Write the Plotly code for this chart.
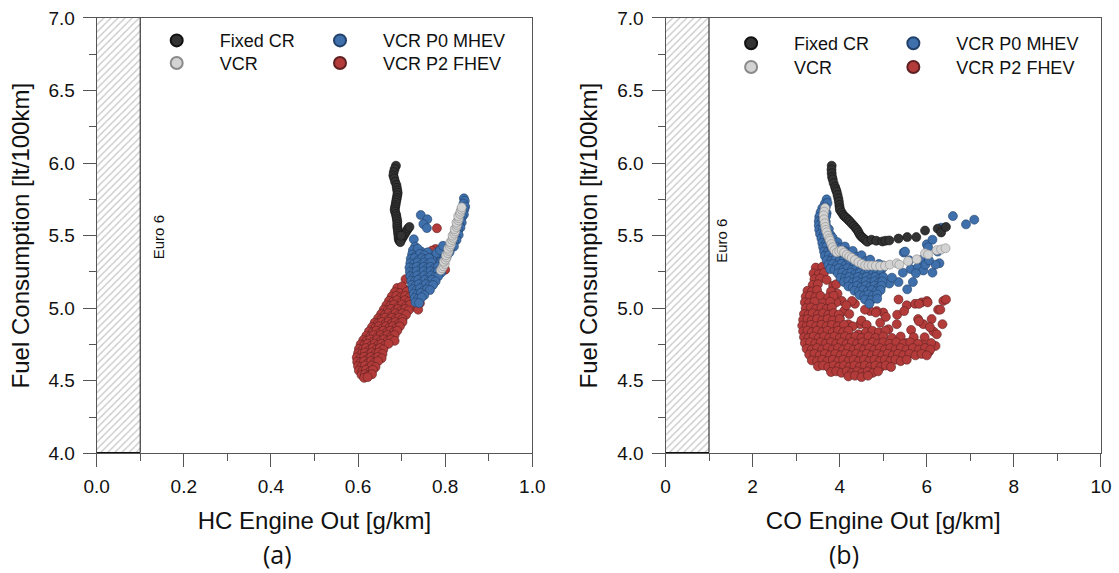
import plotly.graph_objects as go

# ---------------- DATA ----------------
euro6_hc_limit = 0.1   # g/km
euro6_co_limit = 1.0   # g/km
fc_range = [4.0, 7.0]
hc_range = [0.0, 1.0]
co_range = [0.0, 10.0]

series_names = ["Fixed CR", "VCR", "VCR P0 MHEV", "VCR P2 FHEV"]

# (a) HC engine out [g/km] vs fuel consumption [lt/100km]
a_fixed_cr = [
    (0.687, 5.982), (0.684, 5.960), (0.682, 5.938), (0.681, 5.915), (0.683, 5.895), (0.685, 5.872),
    (0.688, 5.850), (0.689, 5.830), (0.690, 5.812), (0.691, 5.795), (0.690, 5.778), (0.689, 5.760),
    (0.688, 5.745), (0.687, 5.728), (0.686, 5.710), (0.685, 5.695), (0.684, 5.680), (0.685, 5.665),
    (0.687, 5.648), (0.688, 5.632), (0.689, 5.615), (0.690, 5.598), (0.690, 5.580), (0.690, 5.562),
    (0.691, 5.545), (0.692, 5.530), (0.692, 5.515), (0.693, 5.500), (0.693, 5.485), (0.694, 5.470),
    (0.696, 5.462), (0.700, 5.475), (0.703, 5.490), (0.706, 5.505), (0.709, 5.520), (0.712, 5.535),
    (0.715, 5.550), (0.718, 5.560), (0.697, 5.455), (0.699, 5.500),
]
a_vcr = [
    (0.790, 5.262), (0.793, 5.275), (0.796, 5.290), (0.799, 5.305), (0.797, 5.320), (0.801, 5.335),
    (0.803, 5.350), (0.802, 5.365), (0.806, 5.380), (0.808, 5.395), (0.807, 5.410), (0.811, 5.425),
    (0.813, 5.440), (0.812, 5.455), (0.816, 5.470), (0.818, 5.485), (0.817, 5.500), (0.821, 5.515),
    (0.823, 5.530), (0.822, 5.545), (0.826, 5.560), (0.827, 5.575), (0.826, 5.590), (0.830, 5.605),
    (0.831, 5.620), (0.830, 5.635), (0.834, 5.650), (0.835, 5.665), (0.837, 5.680), (0.838, 5.695),
]
a_p0_mhev = [
    # outliers
    (0.744, 5.642), (0.759, 5.613), (0.750, 5.580), (0.758, 5.552), (0.728, 5.475), (0.731, 5.424),
    (0.745, 5.390), (0.760, 5.385),
    # upper arm
    (0.843, 5.757), (0.845, 5.740), (0.842, 5.720), (0.846, 5.700), (0.844, 5.680), (0.841, 5.665),
    (0.843, 5.645), (0.839, 5.630), (0.836, 5.610), (0.838, 5.590), (0.833, 5.575), (0.835, 5.555),
    (0.830, 5.540), (0.828, 5.520), (0.831, 5.505), (0.824, 5.490), (0.826, 5.470), (0.820, 5.455),
    (0.816, 5.440), (0.820, 5.425), (0.812, 5.410), (0.806, 5.400), (0.810, 5.385), (0.800, 5.370),
    (0.795, 5.360), (0.803, 5.350), (0.790, 5.345), (0.785, 5.335), (0.795, 5.330), (0.780, 5.325),
    (0.788, 5.315), (0.776, 5.310), (0.772, 5.350), (0.780, 5.380), (0.788, 5.400), (0.795, 5.430),
    (0.770, 5.330), (0.765, 5.320),
    # main cloud
    (0.726, 5.40), (0.737, 5.41),
    (0.724, 5.37), (0.733, 5.36), (0.742, 5.375), (0.752, 5.365),
    (0.721, 5.34), (0.730, 5.345), (0.738, 5.33), (0.747, 5.345), (0.754, 5.335), (0.763, 5.345),
    (0.720, 5.31), (0.728, 5.305), (0.737, 5.315), (0.744, 5.30), (0.753, 5.315), (0.760, 5.305), (0.768, 5.315),
    (0.718, 5.28), (0.727, 5.275), (0.735, 5.285), (0.743, 5.27), (0.751, 5.285), (0.759, 5.275), (0.767, 5.285),
    (0.775, 5.275), (0.783, 5.285),
    (0.719, 5.25), (0.727, 5.245), (0.735, 5.255), (0.743, 5.24), (0.751, 5.255), (0.759, 5.245), (0.767, 5.255),
    (0.775, 5.245), (0.783, 5.255), (0.791, 5.245),
    (0.720, 5.22), (0.728, 5.215), (0.736, 5.225), (0.744, 5.21), (0.752, 5.225), (0.760, 5.215), (0.768, 5.225),
    (0.776, 5.215), (0.784, 5.22),
    (0.722, 5.19), (0.730, 5.185), (0.738, 5.195), (0.746, 5.18), (0.754, 5.195), (0.762, 5.185), (0.770, 5.195),
    (0.778, 5.185),
    (0.724, 5.16), (0.732, 5.155), (0.740, 5.165), (0.748, 5.15), (0.756, 5.165), (0.764, 5.155), (0.772, 5.16),
    (0.726, 5.13), (0.734, 5.125), (0.742, 5.135), (0.750, 5.12), (0.758, 5.13), (0.765, 5.125),
    (0.728, 5.10), (0.736, 5.095), (0.744, 5.105), (0.752, 5.09),
    (0.730, 5.07), (0.738, 5.065), (0.746, 5.075),
    (0.732, 5.04), (0.740, 5.035),
]
a_p2_fhev = [
    # outliers
    (0.781, 5.551), (0.778, 5.408), (0.770, 5.397), (0.800, 5.265), (0.709, 5.200), (0.705, 5.133),
    (0.693, 5.110), (0.735, 5.068), (0.742, 5.034), (0.727, 5.010), (0.738, 4.990),
    # main band
    (0.690, 5.14), (0.701, 5.15),
    (0.684, 5.11), (0.696, 5.105), (0.712, 5.115),
    (0.677, 5.08), (0.688, 5.085), (0.698, 5.075), (0.708, 5.085), (0.718, 5.075),
    (0.671, 5.05), (0.681, 5.045), (0.690, 5.055), (0.699, 5.04), (0.708, 5.055), (0.717, 5.045),
    (0.665, 5.02), (0.674, 5.015), (0.683, 5.025), (0.692, 5.01), (0.701, 5.025), (0.710, 5.015), (0.719, 5.025),
    (0.659, 4.99), (0.668, 4.985), (0.676, 4.995), (0.684, 4.98), (0.692, 4.995), (0.700, 4.985), (0.708, 4.995),
    (0.716, 4.985),
    (0.653, 4.96), (0.662, 4.955), (0.670, 4.965), (0.678, 4.95), (0.686, 4.965), (0.694, 4.955), (0.702, 4.965),
    (0.710, 4.955),
    (0.646, 4.93), (0.654, 4.925), (0.662, 4.935), (0.670, 4.92), (0.678, 4.935), (0.686, 4.925), (0.694, 4.935),
    (0.702, 4.925),
    (0.638, 4.90), (0.646, 4.895), (0.654, 4.905), (0.662, 4.89), (0.670, 4.905), (0.678, 4.895), (0.686, 4.905),
    (0.694, 4.895), (0.702, 4.905),
    (0.632, 4.87), (0.640, 4.865), (0.648, 4.875), (0.656, 4.86), (0.664, 4.875), (0.672, 4.865), (0.680, 4.875),
    (0.688, 4.865), (0.696, 4.875),
    (0.625, 4.84), (0.634, 4.835), (0.642, 4.845), (0.650, 4.83), (0.658, 4.845), (0.666, 4.835), (0.674, 4.845),
    (0.682, 4.835), (0.690, 4.845),
    (0.619, 4.81), (0.628, 4.805), (0.636, 4.815), (0.644, 4.80), (0.652, 4.815), (0.660, 4.805), (0.668, 4.815),
    (0.676, 4.805), (0.684, 4.815),
    (0.612, 4.78), (0.620, 4.775), (0.628, 4.785), (0.636, 4.77), (0.644, 4.785), (0.652, 4.775), (0.660, 4.785),
    (0.668, 4.775), (0.676, 4.785), (0.684, 4.775),
    (0.606, 4.75), (0.614, 4.745), (0.622, 4.755), (0.630, 4.74), (0.638, 4.755), (0.646, 4.745), (0.654, 4.755),
    (0.662, 4.745), (0.670, 4.755),
    (0.602, 4.72), (0.610, 4.715), (0.618, 4.725), (0.626, 4.71), (0.634, 4.725), (0.642, 4.715), (0.650, 4.725),
    (0.658, 4.715),
    (0.600, 4.69), (0.608, 4.685), (0.616, 4.695), (0.624, 4.68), (0.632, 4.695), (0.640, 4.685), (0.648, 4.695),
    (0.656, 4.685),
    (0.597, 4.66), (0.606, 4.655), (0.614, 4.665), (0.622, 4.65), (0.630, 4.665), (0.638, 4.655), (0.646, 4.665),
    (0.654, 4.655),
    (0.598, 4.63), (0.606, 4.625), (0.614, 4.635), (0.622, 4.62), (0.630, 4.635), (0.638, 4.625), (0.646, 4.635),
    (0.600, 4.60), (0.608, 4.595), (0.616, 4.605), (0.624, 4.59), (0.632, 4.605), (0.640, 4.595),
    (0.602, 4.57), (0.610, 4.565), (0.618, 4.575), (0.626, 4.56), (0.634, 4.575),
    (0.608, 4.54), (0.616, 4.545), (0.624, 4.535), (0.632, 4.545),
    (0.614, 4.52), (0.622, 4.525),
]

# (b) CO engine out [g/km] vs fuel consumption [lt/100km]
b_fixed_cr = [
    (3.816, 5.982), (3.812, 5.955), (3.816, 5.930), (3.825, 5.905), (3.839, 5.888), (3.860, 5.862),
    (3.892, 5.837), (3.910, 5.820), (3.931, 5.803), (3.950, 5.780), (3.968, 5.757), (3.980, 5.735),
    (3.991, 5.711), (4.000, 5.692), (4.007, 5.677), (4.045, 5.660), (4.083, 5.642), (4.120, 5.630),
    (4.161, 5.620), (4.200, 5.608), (4.236, 5.597), (4.280, 5.582), (4.328, 5.567), (4.370, 5.552),
    (4.404, 5.539), (4.435, 5.522), (4.466, 5.505), (4.500, 5.492), (4.542, 5.482), (4.590, 5.470),
    (4.634, 5.458), (4.730, 5.472), (4.840, 5.465), (4.980, 5.460), (5.050, 5.465), (5.140, 5.467),
    (5.350, 5.480), (5.550, 5.490), (5.760, 5.490), (5.960, 5.535), (6.250, 5.548), (6.330, 5.522),
    (6.440, 5.560),
]
b_vcr = [
    (3.664, 5.690), (3.645, 5.665), (3.630, 5.640), (3.640, 5.612), (3.655, 5.585), (3.670, 5.560),
    (3.685, 5.540), (3.702, 5.523), (3.730, 5.500), (3.760, 5.480), (3.779, 5.466), (3.810, 5.442),
    (3.840, 5.420), (3.880, 5.400), (3.933, 5.385), (3.990, 5.392), (4.048, 5.397), (4.100, 5.383),
    (4.164, 5.369), (4.220, 5.357), (4.279, 5.347), (4.350, 5.332), (4.431, 5.317), (4.510, 5.305),
    (4.585, 5.294), (4.660, 5.294), (4.740, 5.294), (4.830, 5.292), (4.930, 5.290), (5.040, 5.292),
    (5.150, 5.300), (5.310, 5.310), (5.370, 5.300), (5.570, 5.324), (5.770, 5.337), (5.960, 5.378),
    (6.030, 5.370), (6.230, 5.400), (6.330, 5.405), (6.430, 5.413),
]
b_p0_mhev = [
    # scattered points
    (5.47, 5.384), (6.00, 5.440), (6.13, 5.472), (6.25, 5.390), (6.29, 5.310), (6.13, 5.245),
    (5.63, 5.270), (5.68, 5.180), (5.55, 5.130), (5.35, 5.180), (5.14, 5.170), (5.45, 5.245),
    (5.80, 5.283), (5.88, 5.333), (5.92, 5.260), (6.90, 5.578), (7.09, 5.610), (6.60, 5.635),
    (6.33, 5.555), (6.20, 5.300), (5.97, 5.300), (5.75, 5.240), (6.05, 5.330), (5.20, 5.210),
    (5.60, 5.330), (6.03, 5.420), (5.50, 5.390),
    # dense crescent
    (3.70, 5.75),
    (3.66, 5.72), (3.72, 5.725),
    (3.60, 5.69), (3.68, 5.695),
    (3.56, 5.66), (3.64, 5.665), (3.70, 5.655),
    (3.53, 5.63), (3.61, 5.625), (3.69, 5.635),
    (3.52, 5.60), (3.60, 5.605), (3.68, 5.595),
    (3.52, 5.57), (3.60, 5.565), (3.68, 5.575),
    (3.53, 5.54), (3.61, 5.545), (3.69, 5.535), (3.75, 5.545),
    (3.55, 5.51), (3.63, 5.505), (3.71, 5.515), (3.79, 5.505),
    (3.58, 5.48), (3.66, 5.485), (3.74, 5.475), (3.84, 5.485),
    (3.60, 5.45), (3.68, 5.445), (3.76, 5.455), (3.86, 5.445), (3.95, 5.455),
    (3.62, 5.42), (3.70, 5.425), (3.80, 5.415), (3.92, 5.425), (4.02, 5.415), (4.12, 5.425),
    (3.64, 5.39), (3.72, 5.385), (3.82, 5.395), (3.92, 5.385), (4.10, 5.395), (4.20, 5.385), (4.30, 5.395),
    (3.66, 5.36), (3.75, 5.365), (3.85, 5.355), (3.95, 5.365), (4.05, 5.355), (4.15, 5.365), (4.40, 5.355),
    (4.50, 5.365),
    (3.70, 5.33), (3.80, 5.325), (3.90, 5.335), (4.00, 5.325), (4.10, 5.335), (4.20, 5.325), (4.30, 5.335),
    (4.60, 5.325), (4.70, 5.335),
    (3.74, 5.30), (3.84, 5.305), (3.94, 5.295), (4.04, 5.305), (4.14, 5.295), (4.24, 5.305), (4.34, 5.295),
    (4.44, 5.305), (4.54, 5.295), (4.90, 5.305), (5.00, 5.295),
    (3.78, 5.27), (3.88, 5.265), (3.98, 5.275), (4.08, 5.265), (4.18, 5.275), (4.28, 5.265), (4.38, 5.275),
    (4.48, 5.265), (4.58, 5.275), (4.68, 5.265), (4.78, 5.275), (4.88, 5.265), (4.98, 5.275),
    (3.96, 5.24), (4.06, 5.245), (4.16, 5.235), (4.26, 5.245), (4.36, 5.235), (4.46, 5.245), (4.56, 5.235),
    (4.66, 5.245), (4.76, 5.235), (4.86, 5.245), (4.94, 5.235),
    (4.02, 5.21), (4.12, 5.205), (4.22, 5.215), (4.32, 5.205), (4.42, 5.215), (4.52, 5.205), (4.62, 5.215),
    (4.72, 5.205), (4.82, 5.215), (4.92, 5.205), (5.00, 5.215),
    (4.10, 5.18), (4.20, 5.185), (4.30, 5.175), (4.40, 5.185), (4.50, 5.175), (4.60, 5.185), (4.70, 5.175),
    (4.80, 5.185), (4.90, 5.175), (4.98, 5.185),
    (4.20, 5.15), (4.30, 5.145), (4.40, 5.155), (4.50, 5.145), (4.60, 5.155), (4.70, 5.145), (4.80, 5.155),
    (4.90, 5.145), (4.96, 5.155),
    (4.34, 5.12), (4.44, 5.115), (4.54, 5.125), (4.64, 5.115), (4.74, 5.125), (4.84, 5.115), (4.94, 5.125),
    (4.46, 5.09), (4.56, 5.085), (4.66, 5.095), (4.76, 5.085), (4.86, 5.095),
    (4.58, 5.06), (4.72, 5.055), (4.86, 5.065),
    (4.68, 5.03),
]
b_p2_fhev = [
    # scattered upper points
    (5.35, 5.06), (5.54, 5.02), (5.73, 5.03), (5.88, 5.04), (6.00, 5.05), (6.38, 5.05), (6.44, 5.06),
    (6.26, 4.99), (6.31, 4.99), (5.80, 4.925), (5.92, 4.89), (6.11, 4.925), (6.15, 4.84), (6.07, 4.87),
    (6.23, 4.82), (6.36, 4.89), (5.64, 4.85), (5.52, 4.76), (5.31, 4.89), (5.12, 4.855), (4.93, 4.90),
    (5.00, 4.97), (4.85, 4.98), (4.70, 4.98), (4.58, 4.99), (4.83, 4.97), (5.06, 4.94), (5.32, 4.955),
    (5.48, 4.98), (5.82, 5.03), (6.02, 5.04), (5.82, 4.91), (4.47, 4.89), (4.43, 4.82), (4.20, 4.89),
    (3.85, 4.953), (3.78, 5.01), (4.35, 5.03), (4.28, 5.05), (6.20, 4.74), (6.10, 4.76), (5.95, 4.80),
    (6.05, 4.70), (5.70, 4.80), (5.90, 4.75), (3.95, 5.10), (4.05, 5.05), (4.10, 4.98), (4.22, 4.96),
    (4.15, 5.02), (3.92, 5.04), (4.00, 4.93),
    # main cloud
    (3.45, 5.28), (3.60, 5.285),
    (3.40, 5.24), (3.52, 5.235), (3.64, 5.245),
    (3.42, 5.20), (3.55, 5.205), (3.70, 5.195),
    (3.38, 5.16), (3.50, 5.165), (3.85, 5.155), (3.92, 5.165),
    (3.26, 5.12), (3.36, 5.115), (3.48, 5.125), (3.80, 5.115),
    (3.22, 5.08), (3.32, 5.085), (3.44, 5.075), (3.56, 5.085), (3.74, 5.075), (3.86, 5.085),
    (3.20, 5.04), (3.30, 5.035), (3.42, 5.045), (3.62, 5.035), (3.78, 5.045),
    (3.22, 5.00), (3.34, 5.005), (3.46, 4.995), (3.58, 5.005), (3.70, 4.995), (3.82, 5.005),
    (3.18, 4.96), (3.28, 4.955), (3.38, 4.965), (3.50, 4.955), (3.62, 4.965), (3.74, 4.955), (3.86, 4.965),
    (3.98, 4.955),
    (3.16, 4.92), (3.26, 4.925), (3.36, 4.915), (3.48, 4.925), (3.60, 4.915), (3.72, 4.925), (3.84, 4.915),
    (4.00, 4.925), (4.50, 4.915),
    (3.14, 4.88), (3.24, 4.875), (3.34, 4.885), (3.46, 4.875), (3.58, 4.885), (3.70, 4.875), (3.82, 4.885),
    (3.96, 4.875), (4.10, 4.885), (4.30, 4.875), (4.62, 4.885),
    (3.16, 4.84), (3.26, 4.845), (3.36, 4.835), (3.48, 4.845), (3.60, 4.835), (3.72, 4.845), (3.84, 4.835),
    (3.96, 4.845), (4.08, 4.835), (4.20, 4.845), (4.60, 4.835), (4.75, 4.845), (4.90, 4.835), (5.05, 4.845),
    (3.18, 4.80), (3.28, 4.795), (3.40, 4.805), (3.52, 4.795), (3.64, 4.805), (3.76, 4.795), (3.88, 4.805),
    (4.00, 4.795), (4.12, 4.805), (4.24, 4.795), (4.36, 4.805), (4.50, 4.795), (4.66, 4.805), (4.82, 4.795),
    (5.00, 4.805), (5.20, 4.795), (5.40, 4.805),
    (3.20, 4.76), (3.32, 4.765), (3.44, 4.755), (3.56, 4.765), (3.68, 4.755), (3.80, 4.765), (3.92, 4.755),
    (4.04, 4.765), (4.16, 4.755), (4.28, 4.765), (4.40, 4.755), (4.52, 4.765), (4.64, 4.755), (4.76, 4.765),
    (4.88, 4.755), (5.00, 4.765), (5.14, 4.755), (5.30, 4.765), (5.46, 4.755), (5.62, 4.765), (5.80, 4.755),
    (3.24, 4.72), (3.36, 4.715), (3.48, 4.725), (3.60, 4.715), (3.72, 4.725), (3.84, 4.715), (3.96, 4.725),
    (4.08, 4.715), (4.20, 4.725), (4.32, 4.715), (4.44, 4.725), (4.56, 4.715), (4.68, 4.725), (4.80, 4.715),
    (4.92, 4.725), (5.04, 4.715), (5.16, 4.725), (5.28, 4.715), (5.40, 4.725), (5.54, 4.715), (5.68, 4.725),
    (5.82, 4.715), (5.96, 4.725), (6.08, 4.715),
    (3.30, 4.68), (3.42, 4.685), (3.54, 4.675), (3.66, 4.685), (3.78, 4.675), (3.90, 4.685), (4.02, 4.675),
    (4.14, 4.685), (4.26, 4.675), (4.38, 4.685), (4.50, 4.675), (4.62, 4.685), (4.74, 4.675), (4.86, 4.685),
    (4.98, 4.675), (5.10, 4.685), (5.22, 4.675), (5.34, 4.685), (5.46, 4.675), (5.60, 4.685), (5.74, 4.675),
    (5.88, 4.685), (6.00, 4.675),
    (3.36, 4.64), (3.48, 4.635), (3.60, 4.645), (3.72, 4.635), (3.84, 4.645), (3.96, 4.635), (4.08, 4.645),
    (4.20, 4.635), (4.32, 4.645), (4.44, 4.635), (4.56, 4.645), (4.68, 4.635), (4.80, 4.645), (4.92, 4.635),
    (5.04, 4.645), (5.16, 4.635), (5.28, 4.645), (5.40, 4.635), (5.54, 4.645),
    (3.50, 4.60), (3.62, 4.605), (3.74, 4.595), (3.86, 4.605), (3.98, 4.595), (4.10, 4.605), (4.22, 4.595),
    (4.34, 4.605), (4.46, 4.595), (4.58, 4.605), (4.70, 4.595), (4.82, 4.605), (4.94, 4.595), (5.06, 4.605),
    (5.18, 4.595),
    (3.80, 4.56), (3.92, 4.565), (4.04, 4.555), (4.16, 4.565), (4.28, 4.555), (4.40, 4.565), (4.52, 4.555),
    (4.64, 4.565), (4.76, 4.555), (4.88, 4.565),
    (4.20, 4.53), (4.35, 4.535), (4.50, 4.525), (4.65, 4.535),
]

# ---------------- STYLE ----------------
FONT = "Liberation Sans, Arial, sans-serif"
fills = {"Fixed CR": "#333333", "VCR": "#d3d3d3", "VCR P0 MHEV": "#3f70ac", "VCR P2 FHEV": "#b33c3b"}
edges = {"Fixed CR": "#111111", "VCR": "#8a8a8a", "VCR P0 MHEV": "#22416a", "VCR P2 FHEV": "#5e2020"}

panels = [
    dict(xa="x", ya="y", limit=euro6_hc_limit, data={"Fixed CR": a_fixed_cr, "VCR": a_vcr,
         "VCR P0 MHEV": a_p0_mhev, "VCR P2 FHEV": a_p2_fhev}),
    dict(xa="x2", ya="y2", limit=euro6_co_limit, data={"Fixed CR": b_fixed_cr, "VCR": b_vcr,
         "VCR P0 MHEV": b_p0_mhev, "VCR P2 FHEV": b_p2_fhev}),
]

fig = go.Figure()
draw_order = ["VCR P2 FHEV", "VCR P0 MHEV", "VCR", "Fixed CR"]
legend_ids = {
    (0, "Fixed CR"): "legend", (0, "VCR"): "legend2", (0, "VCR P0 MHEV"): "legend3", (0, "VCR P2 FHEV"): "legend4",
    (1, "Fixed CR"): "legend5", (1, "VCR"): "legend6", (1, "VCR P0 MHEV"): "legend7", (1, "VCR P2 FHEV"): "legend8",
}

for i, p in enumerate(panels):
    # Euro 6 hatched band
    fig.add_trace(go.Bar(
        x=[p["limit"] / 2], y=[fc_range[1] - fc_range[0]], base=[fc_range[0]], width=[p["limit"]],
        xaxis=p["xa"], yaxis=p["ya"], showlegend=False, hoverinfo="skip",
        marker=dict(color="white", line=dict(color="#111111", width=1),
                    pattern=dict(shape="/", fgcolor="#8c8c8c", bgcolor="white", size=5, solidity=0.25)),
    ))
    for name in draw_order:
        pts = p["data"][name]
        fig.add_trace(go.Scatter(
            x=[q[0] for q in pts], y=[q[1] for q in pts], mode="markers", name=name,
            xaxis=p["xa"], yaxis=p["ya"], legend=legend_ids[(i, name)],
            marker=dict(size=9, color=fills[name], line=dict(color=edges[name], width=0.6)),
        ))

axis_common = dict(
    showline=True, linecolor="#555555", linewidth=1, mirror=True, showgrid=False, zeroline=False,
    ticks="outside", ticklen=13, tickwidth=1, tickcolor="#555555", automargin=False,
    tickfont=dict(family=FONT, size=19, color="#111111"),
)
title_font = dict(family=FONT, size=24, color="#111111")
y_dom = [0.2089, 0.9686]

fig.update_layout(
    width=1119, height=573, margin=dict(l=0, r=0, t=0, b=0, autoexpand=False),
    paper_bgcolor="white", plot_bgcolor="white", showlegend=True, bargap=0,
    xaxis=dict(axis_common, domain=[0.08642, 0.47569], range=hc_range, dtick=0.2, tick0=0, tickformat=".1f",
               minor=dict(dtick=0.1, ticks="outside", ticklen=7, tickcolor="#555555"), ticklabelstandoff=3,
               title=dict(text="HC Engine Out [g/km]", font=title_font, standoff=16)),
    yaxis=dict(axis_common, domain=y_dom, range=fc_range, dtick=0.5, tick0=4, tickformat=".1f",
               minor=dict(dtick=0.25, ticks="outside", ticklen=7, tickcolor="#555555"), ticklabelstandoff=4,
               title=dict(text="Fuel Consumption [lt/100km]", font=title_font, standoff=12)),
    xaxis2=dict(axis_common, domain=[0.59473, 0.98391], range=co_range, dtick=2, tick0=0, anchor="y2",
                minor=dict(dtick=1, ticks="outside", ticklen=7, tickcolor="#555555"), ticklabelstandoff=3,
                title=dict(text="CO Engine Out [g/km]", font=title_font, standoff=16)),
    yaxis2=dict(axis_common, domain=y_dom, range=fc_range, dtick=0.5, tick0=4, tickformat=".1f", anchor="x2",
                minor=dict(dtick=0.25, ticks="outside", ticklen=7, tickcolor="#555555"), ticklabelstandoff=4,
                title=dict(text="Fuel Consumption [lt/100km]", font=title_font, standoff=12)),
)

legend_pos = {
    "legend": (0.11948, 0.9290), "legend2": (0.11948, 0.8895),
    "legend3": (0.26542, 0.9290), "legend4": (0.26542, 0.8895),
    "legend5": (0.6328, 0.9239), "legend6": (0.6328, 0.8826),
    "legend7": (0.7778, 0.9239), "legend8": (0.7778, 0.8826),
}
for lid, (lx, ly) in legend_pos.items():
    fig.update_layout({lid: dict(x=lx, y=ly, xanchor="left", yanchor="middle", bgcolor="rgba(0,0,0,0)",
                                 borderwidth=0, itemsizing="constant", itemwidth=76,
                                 font=dict(family=FONT, size=18, color="#111111"))})

# Euro 6 labels
fig.add_annotation(x=0.141, y=5.49, xref="x", yref="y", text="Euro 6", textangle=-90, showarrow=False,
                   font=dict(family=FONT, size=15, color="#111111"))
fig.add_annotation(x=1.30, y=5.465, xref="x2", yref="y2", text="Euro 6", textangle=-90, showarrow=False,
                   font=dict(family=FONT, size=15, color="#111111"))
# panel labels
fig.add_annotation(x=0.2482, y=0.0332, xref="paper", yref="paper", text="(a)", showarrow=False,
                   xanchor="center", yanchor="middle", font=dict(family="Open Sans", size=25, color="#111111"))
fig.add_annotation(x=0.7542, y=0.0332, xref="paper", yref="paper", text="(b)", showarrow=False,
                   xanchor="center", yanchor="middle", font=dict(family="Open Sans", size=25, color="#111111"))

fig.write_html("out.html")
